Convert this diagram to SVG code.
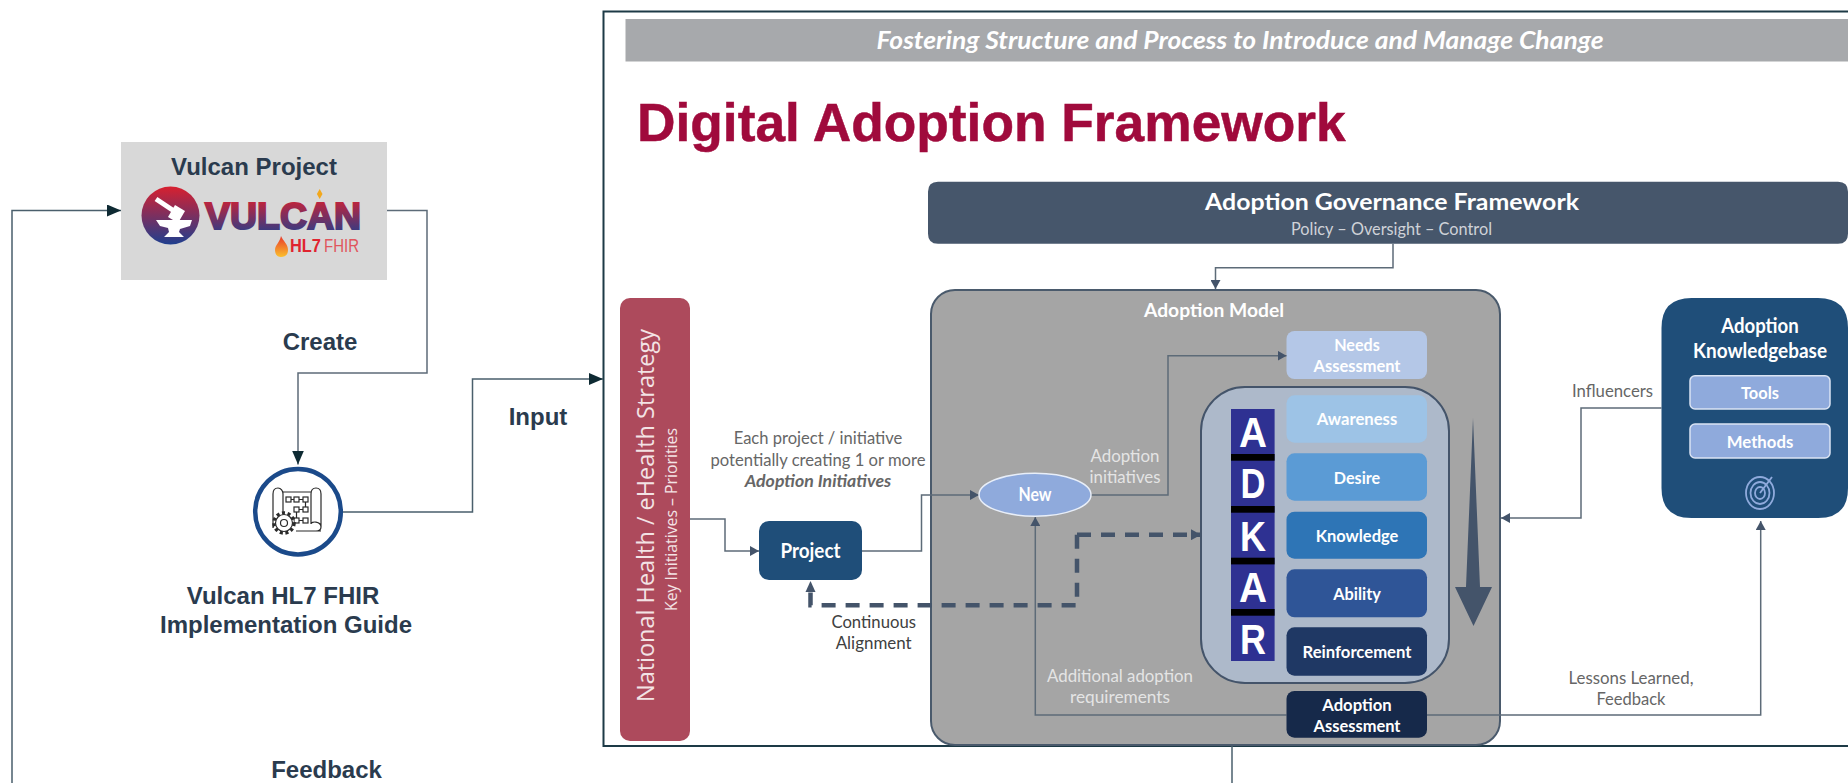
<svg xmlns="http://www.w3.org/2000/svg" width="1848" height="783" viewBox="0 0 1848 783">
<style>
.a{font-family:"Liberation Sans",Arial,sans-serif;font-weight:700;fill:#2a3b4e;font-size:24px;text-anchor:middle}
.l{font-family:Lato,"Open Sans",sans-serif;text-anchor:middle;font-size:17px}
.b{font-weight:700;fill:#fff}
.g{fill:#666}
.q{fill:#e4e4e4}
.o{font-family:"Open Sans","Noto Sans",sans-serif;text-anchor:middle;fill:#f3e3e5}
.ln{fill:none;stroke:#4a5f6c;stroke-width:1.5}
.dk{fill:none;stroke:#5d6b78;stroke-width:1.5}
.big{marker-end:url(#mb)}
.sm{marker-end:url(#ms)}
.row{stroke:none}
.ic{fill:none;stroke:#2a2a2a;stroke-width:1.2}
</style>
<defs>
<marker id="mb" markerUnits="userSpaceOnUse" markerWidth="14" markerHeight="12" refX="14" refY="6" orient="auto"><path d="M0 0L14 6L0 12Z" fill="#0e2a33"/></marker>
<marker id="ms" markerUnits="userSpaceOnUse" markerWidth="9" markerHeight="10" refX="9" refY="5" orient="auto"><path d="M0 0L9 5L0 10Z" fill="#44546a"/></marker>
<marker id="md" markerUnits="userSpaceOnUse" markerWidth="10" markerHeight="11" refX="10" refY="5.5" orient="auto"><path d="M0 0L10 5.5L0 11Z" fill="#44546a"/></marker>
<linearGradient id="lg" x1="0" y1="0" x2="0" y2="1"><stop offset="0" stop-color="#d8202f"/><stop offset="1" stop-color="#1f3f8f"/></linearGradient>
<linearGradient id="fl" x1="0" y1="0" x2="0" y2="1"><stop offset="0" stop-color="#e8372c"/><stop offset="1" stop-color="#fbc02d"/></linearGradient>
</defs>

<g id="frame"><rect x="603.5" y="11.5" width="1260" height="734.5" fill="#fff" stroke="#1d3a46" stroke-width="2"/></g>

<g id="banner">
<rect x="625.5" y="19" width="1230" height="42.5" fill="#a7a9ac"/>
<text class="l b" x="1240" y="49" font-style="italic" style="font-size:24px" textLength="727" lengthAdjust="spacingAndGlyphs">Fostering Structure and Process to Introduce and Manage Change</text>
</g>
<g id="title"><text x="637" y="140.5" font-family="Liberation Sans,Arial,sans-serif" font-weight="700" font-size="53.3" fill="#a00a3c" stroke="#a00a3c" stroke-width="0.5">Digital Adoption Framework</text></g>

<g id="vulcan-project">
<rect x="121" y="142" width="266" height="138" fill="#d8d8d8"/>
<text class="a" x="254" y="175">Vulcan Project</text>
<circle cx="170.5" cy="215.5" r="29" fill="url(#lg)"/>
<path d="M156 199L177 213" stroke="#fff" stroke-width="5" fill="none"/>
<path d="M175 205L185 211L178 223L168 217Z" fill="#fff"/>
<path d="M156 220L192 220L190 226L180 229L179 232L184 237L164 237L169 232L168 228L160 226Z" fill="#fff"/>
<text x="205" y="229" font-family="Liberation Sans,Arial,sans-serif" font-weight="700" font-size="36" fill="url(#lg)" stroke="url(#lg)" stroke-width="2" textLength="156" lengthAdjust="spacingAndGlyphs">VULCAN</text>
<path d="M319.7 189L322.500 194L319.7 199L316.900 194Z" fill="#f2a81d"/>
<path d="M281 236C283 241 288 244 288 250C288 255 285 257 281 257C277 257 275 254 275 250C275 245 280 242 281 236Z" fill="url(#fl)"/>
<text x="290" y="252" font-family="Liberation Sans,Arial,sans-serif" font-weight="700" font-size="18" fill="#e0242f" textLength="31" lengthAdjust="spacingAndGlyphs">HL7</text>
<text x="324" y="252" font-family="Liberation Sans,Arial,sans-serif" font-size="18" fill="#e0555c" textLength="35" lengthAdjust="spacingAndGlyphs">FHIR</text>
</g>

<g id="implementation-guide">
<circle cx="298" cy="511.7" r="42.8" fill="#fff" stroke="#1b4a8a" stroke-width="4.5"/>
<path class="ic" d="M278 488C274 488 273 491 273 494V528C273 526 275 524 278 524C281 524 283 526 283 528V494C283 491 281 488 278 488Z"/>
<path class="ic" d="M316 488C320 488 321 491 321 494V527C321 530 319 531 316 531M316 488C312 488 311 491 311 494V524C311 521 321 521 321 527M283 492H311M296 531H321"/>
<g class="ic"><rect x="286" y="497" width="5" height="5"/><rect x="294" y="497" width="5" height="5"/><rect x="303" y="497" width="5" height="5"/><rect x="294" y="507" width="5" height="5"/><rect x="303" y="507" width="5" height="5"/><rect x="294" y="518" width="5" height="5"/><rect x="303" y="518" width="5" height="5"/><path d="M291 499.5H294M299 499.5H303M305.500 502V507M299 509.500H303M296.500 512V518M299 520.500H303"/></g>
<circle cx="284" cy="523" r="10" fill="#fff" stroke="#2a2a2a" stroke-width="3.5" stroke-dasharray="3 2.6"/>
<circle cx="284" cy="523" r="8.500" fill="#fff" stroke="#2a2a2a" stroke-width="1.2"/>
<circle cx="284" cy="523" r="3.500" class="ic"/>
<text class="a" x="283" y="604">Vulcan HL7 FHIR</text>
<text class="a" x="286" y="633">Implementation Guide</text>
</g>

<g id="strategy">
<rect x="620" y="298" width="70" height="443" rx="10" fill="#ad4a5c"/>
<text class="o" transform="translate(654 515.500) rotate(-90)" font-size="23.5" textLength="373" lengthAdjust="spacingAndGlyphs">National Health / eHealth Strategy</text>
<text class="o" transform="translate(677 519.500) rotate(-90)" font-size="15.5" textLength="183" lengthAdjust="spacingAndGlyphs">Key Initiatives – Priorities</text>
</g>

<g id="governance">
<path d="M938 181.700H1838Q1848 181.700 1848 191.700V233.700Q1848 243.700 1838 243.700H938Q928 243.700 928 233.700V191.700Q928 181.700 938 181.700Z" fill="#46566b"/>
<text class="l b" x="1392" y="210" style="font-size:23px" textLength="374" lengthAdjust="spacingAndGlyphs">Adoption Governance Framework</text>
<text class="l" x="1391.500" y="235" fill="#cfd2d8" textLength="201" lengthAdjust="spacingAndGlyphs">Policy – Oversight – Control</text>
</g>

<g id="adoption-model">
<rect x="931" y="290" width="569" height="455" rx="24" fill="#a5a5a5" stroke="#4a5a6c" stroke-width="2"/>
<text class="l b" x="1214" y="317" style="font-size:18px" textLength="140" lengthAdjust="spacingAndGlyphs">Adoption Model</text>
</g>

<g id="adkar">
<rect x="1201" y="387" width="248" height="296" rx="44" fill="#adb9ca" stroke="#44546a" stroke-width="2"/>
<rect x="1231" y="409" width="43.600" height="252" fill="#2e3192"/>
<g fill="#000"><rect x="1231" y="454" width="43.600" height="6.700"/><rect x="1231" y="506" width="43.600" height="6.700"/><rect x="1231" y="557.700" width="43.600" height="6.700"/><rect x="1231" y="609" width="43.600" height="6.700"/></g>
<g font-family="Liberation Sans,Arial,sans-serif" font-weight="700" font-size="43" fill="#fff" text-anchor="middle">
<text x="1253" y="446.700" textLength="28" lengthAdjust="spacingAndGlyphs">A</text><text x="1253" y="498" textLength="25" lengthAdjust="spacingAndGlyphs">D</text><text x="1253" y="550.700" textLength="26" lengthAdjust="spacingAndGlyphs">K</text><text x="1253" y="602" textLength="28" lengthAdjust="spacingAndGlyphs">A</text><text x="1253" y="654" textLength="26" lengthAdjust="spacingAndGlyphs">R</text></g>
<polygon points="1473,418 1480,587 1492,587 1473.500,626 1455,587 1466,587" fill="#44546a"/>
</g>

<g id="needs-assessment"><rect class="row" x="1286.500" y="331" width="140.500" height="48" rx="8" fill="#b4c7e7"/>
<text class="l b" x="1357" y="351" textLength="45.600" lengthAdjust="spacingAndGlyphs">Needs</text><text class="l b" x="1357" y="372" textLength="87" lengthAdjust="spacingAndGlyphs">Assessment</text></g>
<g id="awareness"><rect class="row" x="1286.500" y="395.300" width="140.500" height="47.400" rx="8" fill="#9dc3e6"/><text class="l b" x="1357" y="425" textLength="80.500" lengthAdjust="spacingAndGlyphs">Awareness</text></g>
<g id="desire"><rect class="row" x="1286.500" y="453.300" width="140.500" height="47.400" rx="8" fill="#5b9bd5"/><text class="l b" x="1357" y="484" textLength="46.400" lengthAdjust="spacingAndGlyphs">Desire</text></g>
<g id="knowledge"><rect class="row" x="1286.500" y="511.700" width="140.500" height="47" rx="8" fill="#2e75b6"/><text class="l b" x="1357" y="542" textLength="82.700" lengthAdjust="spacingAndGlyphs">Knowledge</text></g>
<g id="ability"><rect class="row" x="1286.500" y="569.300" width="140.500" height="48" rx="8" fill="#2f5597"/><text class="l b" x="1357" y="600" textLength="47.700" lengthAdjust="spacingAndGlyphs">Ability</text></g>
<g id="reinforcement"><rect class="row" x="1286.500" y="627.300" width="140.500" height="48.400" rx="8" fill="#1f3864"/><text class="l b" x="1357" y="658" textLength="109" lengthAdjust="spacingAndGlyphs">Reinforcement</text></g>

<g id="connectors">
<path class="ln big" d="M12 783V210.500H121"/>
<path class="dk big" d="M387 210.500H427V373H298V464.500"/>
<path class="ln big" d="M343 512H472.500V379H603"/>
<path class="dk sm" d="M1393 243.700V267.700H1215.500V289"/>
<path class="dk sm" d="M690 519H725V551H759"/>
<path class="dk sm" d="M862 551H921.500V495H979"/>
<path class="dk sm" d="M1091 495H1168V355.700H1286.500"/>
<path class="dk sm" d="M1286.500 715H1035.300V517"/>
<path class="dk sm" d="M1427 715H1760.700V521"/>
<path class="dk sm" d="M1661.500 408H1581V518H1501"/>
<path fill="none" stroke="#44546a" stroke-width="4.5" stroke-dasharray="14 10" marker-end="url(#md)" d="M1077 534.700H1201"/>
<path fill="none" stroke="#44546a" stroke-width="4.5" stroke-dasharray="14 10" d="M1077 534.700V605.300H810.500V592"/>
<path fill="#44546a" d="M810.500 581L815.500 592H805.500Z"/>
<path class="ln" d="M1232 746V783"/>
</g>

<g id="project"><rect x="759" y="521" width="103" height="59" rx="10" fill="#1f4e79"/><text class="l b" x="810.500" y="558" style="font-size:20px" textLength="60" lengthAdjust="spacingAndGlyphs">Project</text></g>
<g id="new"><ellipse cx="1035" cy="494.700" rx="56" ry="21.500" fill="#8faadc" stroke="#e8eef8" stroke-width="1.500"/><text class="l b" x="1035" y="501" style="font-size:18px" textLength="33" lengthAdjust="spacingAndGlyphs">New</text></g>
<g id="adoption-assessment"><rect class="row" x="1286.500" y="691" width="140.500" height="46.700" rx="8" fill="#16294a"/><text class="l b" x="1357" y="711" textLength="69.500" lengthAdjust="spacingAndGlyphs">Adoption</text><text class="l b" x="1357" y="732" textLength="87" lengthAdjust="spacingAndGlyphs">Assessment</text></g>

<g id="knowledgebase">
<path d="M1691.500 298H1818Q1848 298 1848 328V488Q1848 518 1818 518H1691.500Q1661.500 518 1661.500 488V328Q1661.500 298 1691.500 298Z" fill="#1f4e79"/>
<text class="l b" x="1760" y="333" style="font-size:20px" textLength="77.500" lengthAdjust="spacingAndGlyphs">Adoption</text>
<text class="l b" x="1760" y="358" style="font-size:20px" textLength="134" lengthAdjust="spacingAndGlyphs">Knowledgebase</text>
<rect x="1690" y="375.700" width="140" height="33.300" rx="5" fill="#8faadc" stroke="#dae3f3" stroke-width="1.500"/>
<text class="l b" x="1760" y="399" textLength="38" lengthAdjust="spacingAndGlyphs">Tools</text>
<rect x="1690" y="424" width="140" height="34" rx="5" fill="#8faadc" stroke="#dae3f3" stroke-width="1.500"/>
<text class="l b" x="1760" y="448" textLength="66.500" lengthAdjust="spacingAndGlyphs">Methods</text>
<g fill="none" stroke="#8faadc" stroke-width="1.800"><ellipse cx="1760" cy="493" rx="14" ry="16"/><ellipse cx="1760" cy="493" rx="9.500" ry="11"/><ellipse cx="1760" cy="493" rx="5" ry="6"/><path d="M1760 493L1772 477"/></g>
</g>

<g id="labels">
<text class="a" x="320" y="350">Create</text>
<text class="a" x="538" y="425">Input</text>
<text class="a" x="326.500" y="778">Feedback</text>
<text class="l g" x="818" y="444" textLength="168.600" lengthAdjust="spacingAndGlyphs">Each project / initiative</text>
<text class="l g" x="818" y="465.700" textLength="215" lengthAdjust="spacingAndGlyphs">potentially creating 1 or more</text>
<text class="l g" x="818" y="487" font-weight="700" font-style="italic" textLength="146.500" lengthAdjust="spacingAndGlyphs">Adoption Initiatives</text>
<text class="l q" x="1125" y="462" textLength="69" lengthAdjust="spacingAndGlyphs">Adoption</text>
<text class="l q" x="1125" y="483" textLength="71" lengthAdjust="spacingAndGlyphs">initiatives</text>
<text class="l" x="873.700" y="628" fill="#404040" textLength="84.500" lengthAdjust="spacingAndGlyphs">Continuous</text>
<text class="l" x="873.700" y="648.500" fill="#404040" textLength="76" lengthAdjust="spacingAndGlyphs">Alignment</text>
<text class="l q" x="1120" y="682" textLength="146" lengthAdjust="spacingAndGlyphs">Additional adoption</text>
<text class="l q" x="1120" y="703" textLength="100" lengthAdjust="spacingAndGlyphs">requirements</text>
<text class="l g" x="1612.500" y="397" textLength="81" lengthAdjust="spacingAndGlyphs">Influencers</text>
<text class="l g" x="1631" y="684" textLength="125" lengthAdjust="spacingAndGlyphs">Lessons Learned,</text>
<text class="l g" x="1631" y="705" textLength="69" lengthAdjust="spacingAndGlyphs">Feedback</text>
</g>
</svg>
